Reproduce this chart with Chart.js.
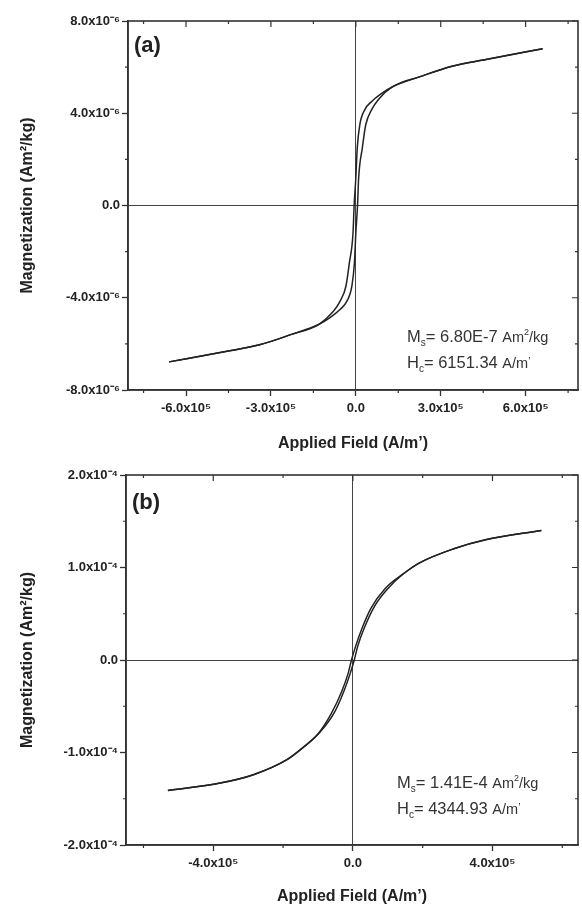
<!DOCTYPE html>
<html>
<head>
<meta charset="utf-8">
<script src="https://cdn.jsdelivr.net/npm/chart.js@4.4.0/dist/chart.umd.min.js"></script>
<style>
  html, body { margin: 0; padding: 0; background: #fff; }
  canvas { display: block; }
</style>
</head>
<body>
<canvas id="chartA" width="582" height="453"></canvas>
<canvas id="chartB" width="582" height="453"></canvas>
<script>
// ---- panel (a) : H in 1e5 A/m, M in 1e-6 Am2/kg ----
var aDownH = [-6.6, -4.6, -3.4, -2.3, -1.3, -0.8, -0.56, -0.35, -0.23, -0.1, -0.06, 0.0, 0.05, 0.14, 0.32, 0.55, 0.9, 1.3, 2.3, 3.4, 4.6, 6.6];
var aDownM = [-6.78, -6.33, -6.04, -5.6, -5.15, -4.6, -4.16, -3.5, -2.5, -1.2, 0, 1.2, 2.5, 3.5, 4.16, 4.5, 4.85, 5.15, 5.6, 6.04, 6.33, 6.8];
var aUpH = [-6.6, -4.6, -3.4, -2.3, -1.3, -0.9, -0.55, -0.32, -0.14, -0.05, 0.0, 0.06, 0.1, 0.23, 0.35, 0.56, 0.8, 1.3, 2.3, 3.4, 4.6, 6.6];
var aUpM = [-6.78, -6.33, -6.04, -5.6, -5.15, -4.85, -4.5, -4.16, -3.5, -2.5, -1.2, 0, 1.2, 2.5, 3.5, 4.16, 4.6, 5.15, 5.6, 6.04, 6.33, 6.8];
var aXTicks = [-6e5, -3e5, 0, 3e5, 6e5];
var aXTickLabels = ['-6.0x10\u2075', '-3.0x10\u2075', '0.0', '3.0x10\u2075', '6.0x10\u2075'];
var aXMinor = [-7.5e5, -4.5e5, -1.5e5, 1.5e5, 4.5e5, 7.5e5];
var aYTicks = [-8e-6, -4e-6, 0, 4e-6, 8e-6];
var aYTickLabels = ['-8.0x10\u207B\u2076', '-4.0x10\u207B\u2076', '0.0', '4.0x10\u207B\u2076', '8.0x10\u207B\u2076'];
var aYMinor = [-6e-6, -2e-6, 2e-6, 6e-6];
var aMs = '6.80E-7';
var aHc = '6151.34';

// ---- panel (b) : H in 1e5 A/m, M in 1e-4 Am2/kg ----
var bDownH = [-5.3, -3.8, -2.85, -1.9, -1.44, -1.0, -0.62, -0.32, -0.14, -0.04, 0.08, 0.26, 0.52, 0.92, 1.44, 1.91, 2.87, 3.8, 5.4];
var bDownM = [-1.41, -1.33, -1.24, -1.08, -0.95, -0.80, -0.58, -0.34, -0.15, 0, 0.15, 0.34, 0.56, 0.77, 0.93, 1.05, 1.20, 1.30, 1.40];
var bUpH = [-5.3, -3.8, -2.85, -1.9, -1.44, -0.92, -0.52, -0.26, -0.08, 0.04, 0.14, 0.32, 0.62, 1.0, 1.44, 1.91, 2.87, 3.8, 5.4];
var bUpM = [-1.41, -1.33, -1.24, -1.08, -0.95, -0.77, -0.56, -0.34, -0.15, 0, 0.15, 0.34, 0.58, 0.77, 0.93, 1.05, 1.20, 1.30, 1.40];
var bXTicks = [-4e5, 0, 4e5];
var bXTickLabels = ['-4.0x10\u2075', '0.0', '4.0x10\u2075'];
var bXMinor = [-6e5, -2e5, 2e5, 6e5];
var bYTicks = [-2e-4, -1e-4, 0, 1e-4, 2e-4];
var bYTickLabels = ['-2.0x10\u207B\u2074', '-1.0x10\u207B\u2074', '0.0', '1.0x10\u207B\u2074', '2.0x10\u207B\u2074'];
var bYMinor = [-1.5e-4, -0.5e-4, 0.5e-4, 1.5e-4];
var bMs = '1.41E-4';
var bHc = '4344.93';

var FONT = "'Liberation Sans', Arial, sans-serif";

function toPoints(hs, ms, hUnit, mUnit) {
	return hs.map(function(h, i) { return { x: h * hUnit, y: ms[i] * mUnit }; });
}

function drawRich(ctx, x, y, parts) {
	parts.forEach(function(p) {
		ctx.font = p.font;
		ctx.fillText(p.t, x, y + (p.dy || 0));
		x += ctx.measureText(p.t).width;
	});
}

var framePlugin = {
	id: 'frame',
	afterDraw: function(chart, args, o) {
		var ctx = chart.ctx;
		var a = chart.chartArea;
		var xs = chart.scales.x, ys = chart.scales.y;
		ctx.save();
		ctx.strokeStyle = '#333';
		ctx.lineWidth = 1.6;
		ctx.strokeRect(a.left, a.top, a.right - a.left, a.bottom - a.top);
		ctx.lineWidth = 1.2;
		ctx.beginPath();
		// minor ticks, outward on bottom/left, inward on top/right
		o.xMinor.forEach(function(v) {
			var px = xs.getPixelForValue(v);
			if (px < a.left || px > a.right) return;
			ctx.moveTo(px, a.bottom); ctx.lineTo(px, a.bottom + 3);
			ctx.moveTo(px, a.top); ctx.lineTo(px, a.top + 3);
		});
		o.xMajor.forEach(function(v) {
			var px = xs.getPixelForValue(v);
			ctx.moveTo(px, a.top); ctx.lineTo(px, a.top + 6);
		});
		o.yMinor.forEach(function(v) {
			var py = ys.getPixelForValue(v);
			ctx.moveTo(a.left, py); ctx.lineTo(a.left - 3, py);
			ctx.moveTo(a.right, py); ctx.lineTo(a.right - 3, py);
		});
		o.yMajor.forEach(function(v) {
			var py = ys.getPixelForValue(v);
			ctx.moveTo(a.right, py); ctx.lineTo(a.right - 6, py);
		});
		ctx.stroke();

		ctx.fillStyle = '#222';
		ctx.textBaseline = 'alphabetic';
		ctx.textAlign = 'left';
		ctx.font = 'bold 22px ' + FONT;
		ctx.fillText(o.panel, a.left + 6, a.top + o.panelDy);

		ctx.fillStyle = '#333';
		drawRich(ctx, o.noteX, o.noteY, [
			{ t: 'M', font: '16.5px ' + FONT },
			{ t: 's', font: '10px ' + FONT, dy: 4 },
			{ t: '= ' + o.ms + ' ', font: '16.5px ' + FONT },
			{ t: 'Am', font: '14.5px ' + FONT },
			{ t: '2', font: '9px ' + FONT, dy: -7 },
			{ t: '/kg', font: '14.5px ' + FONT }
		]);
		drawRich(ctx, o.noteX, o.noteY + 26, [
			{ t: 'H', font: '16.5px ' + FONT },
			{ t: 'c', font: '10px ' + FONT, dy: 4 },
			{ t: '= ' + o.hc + ' ', font: '16.5px ' + FONT },
			{ t: 'A/m', font: '14.5px ' + FONT },
			{ t: '\u2019', font: '11px ' + FONT, dy: -3 }
		]);
		ctx.restore();
	}
};

function makeChart(id, cfg) {
	var ctx = document.getElementById(id).getContext('2d');
	return new Chart(ctx, {
		type: 'scatter',
		data: {
			datasets: [
				{ data: cfg.down, showLine: true, borderColor: '#222', borderWidth: 1.5, pointRadius: 0, cubicInterpolationMode: 'monotone' },
				{ data: cfg.up, showLine: true, borderColor: '#222', borderWidth: 1.5, pointRadius: 0, cubicInterpolationMode: 'monotone' }
			]
		},
		plugins: [framePlugin],
		options: {
			responsive: false,
			animation: false,
			layout: { padding: { top: cfg.padTop, right: 4, left: 0, bottom: 0 } },
			plugins: {
				legend: { display: false },
				tooltip: { enabled: false },
				frame: cfg.frame
			},
			scales: {
				x: {
					type: 'linear',
					min: cfg.xMin,
					max: cfg.xMax,
					afterBuildTicks: function(scale) { scale.ticks = cfg.xTicks.map(function(v) { return { value: v }; }); },
					afterFit: function(scale) { scale.height = cfg.xAxisHeight; },
					ticks: {
						autoSkip: false,
						maxRotation: 0,
						padding: 5,
						color: '#222',
						font: { family: FONT, size: 13, weight: 'bold' },
						callback: function(value, index) { return cfg.xTickLabels[index]; }
					},
					grid: {
						color: function(c) { return c.tick && c.tick.value === 0 ? '#444' : 'rgba(0,0,0,0)'; },
						lineWidth: 1,
						tickColor: '#333',
						tickLength: 6,
						tickWidth: 1.3
					},
					border: { display: true, color: '#333', width: 1.6 },
					title: {
						display: true,
						text: 'Applied Field (A/m\u2019)',
						color: '#222',
						font: { family: FONT, size: 16, weight: 'bold' },
						padding: { top: 0, bottom: 0 }
					}
				},
				y: {
					type: 'linear',
					min: cfg.yMin,
					max: cfg.yMax,
					afterBuildTicks: function(scale) { scale.ticks = cfg.yTicks.map(function(v) { return { value: v }; }); },
					afterFit: function(scale) { scale.width = cfg.yAxisWidth; },
					ticks: {
						autoSkip: false,
						padding: 2,
						color: '#222',
						font: { family: FONT, size: 13, weight: 'bold' },
						callback: function(value, index) { return cfg.yTickLabels[index]; }
					},
					grid: {
						color: function(c) { return c.tick && c.tick.value === 0 ? '#444' : 'rgba(0,0,0,0)'; },
						lineWidth: 1,
						tickColor: '#333',
						tickLength: 6,
						tickWidth: 1.3
					},
					border: { display: true, color: '#333', width: 1.6 },
					title: {
						display: true,
						text: 'Magnetization (Am\u00B2/kg)',
						color: '#222',
						font: { family: FONT, size: 16, weight: 'bold' },
						padding: { top: 18, bottom: 0 }
					}
				}
			}
		}
	});
}

makeChart('chartA', {
	down: toPoints(aDownH, aDownM, 1e5, 1e-6),
	up: toPoints(aUpH, aUpM, 1e5, 1e-6),
	xMin: -8.05e5, xMax: 7.85e5, yMin: -8e-6, yMax: 8e-6,
	xTicks: aXTicks, xTickLabels: aXTickLabels,
	yTicks: aYTicks, yTickLabels: aYTickLabels,
	padTop: 21, xAxisHeight: 63, yAxisWidth: 128,
	frame: { xMinor: aXMinor, xMajor: aXTicks, yMinor: aYMinor, yMajor: aYTicks,
		panel: '(a)', panelDy: 31, noteX: 407, noteY: 342, ms: aMs, hc: aHc }
});

makeChart('chartB', {
	down: toPoints(bDownH, bDownM, 1e5, 1e-4),
	up: toPoints(bUpH, bUpM, 1e5, 1e-4),
	xMin: -6.5e5, xMax: 6.45e5, yMin: -2e-4, yMax: 2e-4,
	xTicks: bXTicks, xTickLabels: bXTickLabels,
	yTicks: bYTicks, yTickLabels: bYTickLabels,
	padTop: 22, xAxisHeight: 61, yAxisWidth: 126,
	frame: { xMinor: bXMinor, xMajor: bXTicks, yMinor: bYMinor, yMajor: bYTicks,
		panel: '(b)', panelDy: 34, noteX: 397, noteY: 335, ms: bMs, hc: bHc }
});
</script>
</body>
</html>
